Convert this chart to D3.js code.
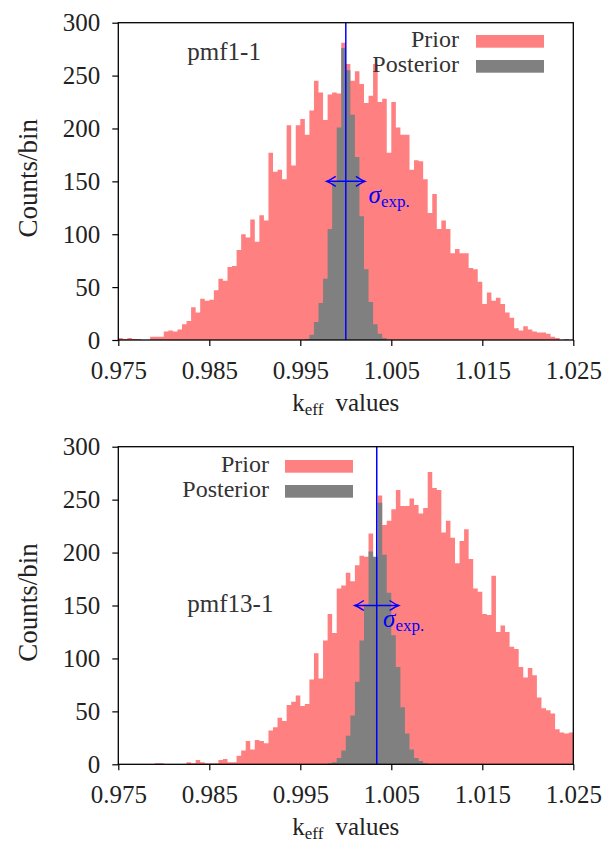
<!DOCTYPE html>
<html>
<head>
<meta charset="utf-8">
<script src="https://cdn.jsdelivr.net/npm/d3@7"></script>
<style>
  body { margin: 0; background: #fff; }
  text { font-family: "Liberation Serif", "DejaVu Serif", serif; fill: #222; }
</style>
</head>
<body>
<div id="container"></div>
<script>
// tick labels
const xTicks = [0.975, 0.985, 0.995, 1.005, 1.015, 1.025];
const yTicks = [0, 50, 100, 150, 200, 250, 300];

// histogram binning (100 bins of 0.0005 between 0.975 and 1.025)
const binLo = 0.975, binHi = 1.025, nBins = 100;

// pmf1-1 : counts per bin
const prior1 = [
  2, 1, 2, 1, 1, 0, 0, 3, 3, 3,
  8, 9, 8, 10, 15, 18, 31, 26, 39, 37,
  38, 47, 58, 56, 69, 70, 85, 100, 97, 114,
  93, 118, 113, 177, 159, 161, 152, 203, 165, 203,
  209, 194, 217, 245, 234, 208, 232, 234, 233, 281,
  261, 245, 254, 242, 224, 231, 261, 225, 228, 177,
  225, 201, 194, 194, 161, 170, 169, 152, 120, 138,
  105, 113, 105, 82, 86, 82, 82, 68, 67, 55,
  34, 45, 37, 40, 34, 26, 21, 11, 9, 13,
  10, 8, 7, 7, 6, 3, 2, 0, 1, 0
];
const post1 = [
  0, 0, 0, 0, 0, 0, 0, 0, 0, 0,
  0, 0, 0, 0, 0, 0, 0, 0, 0, 0,
  0, 0, 0, 0, 0, 0, 0, 0, 0, 0,
  0, 0, 0, 0, 0, 0, 0, 0, 0, 0,
  0, 1, 5, 17, 35, 58, 105, 150, 201, 276,
  255, 213, 173, 117, 67, 36, 15, 6, 2, 0,
  0, 0, 0, 0, 0, 0, 0, 0, 0, 0,
  0, 0, 0, 0, 0, 0, 0, 0, 0, 0,
  0, 0, 0, 0, 0, 0, 0, 0, 0, 0,
  0, 0, 0, 0, 0, 0, 0, 0, 0, 0
];

// pmf13-1 : counts per bin
const prior2 = [
  0, 0, 0, 0, 0, 0, 0, 0, 1, 1,
  0, 0, 0, 0, 0, 2, 1, 4, 2, 1,
  1, 1, 4, 5, 2, 2, 8, 13, 22, 14,
  23, 22, 20, 32, 35, 44, 41, 56, 59, 65,
  55, 57, 80, 105, 81, 117, 142, 124, 166, 169,
  181, 173, 188, 197, 196, 218, 195, 254, 226, 230,
  241, 259, 244, 244, 251, 245, 237, 242, 276, 261,
  259, 219, 230, 214, 190, 211, 222, 194, 166, 163,
  142, 141, 178, 125, 131, 125, 111, 109, 92, 82,
  91, 84, 63, 53, 51, 48, 33, 30, 29, 30
];
const post2 = [
  0, 0, 0, 0, 0, 0, 0, 0, 0, 0,
  0, 0, 0, 0, 0, 0, 0, 0, 0, 0,
  0, 0, 0, 0, 0, 0, 0, 0, 0, 0,
  0, 0, 0, 0, 0, 0, 0, 0, 0, 0,
  0, 0, 0, 0, 0, 0, 1, 2, 6, 13,
  27, 46, 78, 117, 151, 201, 196, 247, 198, 162,
  122, 92, 54, 29, 14, 6, 3, 1, 0, 0,
  0, 0, 0, 0, 0, 0, 0, 0, 0, 0,
  0, 0, 0, 0, 0, 0, 0, 0, 0, 0,
  0, 0, 0, 0, 0, 0, 0, 0, 0, 0
];

// annotations
const caseNames = ["pmf1-1", "pmf13-1"];
const expValue = [1.0000, 1.0034];   // blue line
const expSigma = [0.0021, 0.0024];   // arrow half width
const arrowCount = [150, 150];
const sigmaLabelX = [1.0025, 1.0041];
const sigmaLabelCount = [130, 130];
const seriesNames = ["Prior", "Posterior"];

const colors = { prior: "#ff8080", post: "#808080", exp: "#0000ff" };

const W = 608, H = 845;
const svg = d3.select("#container").append("svg")
  .attr("width", W).attr("height", H);

const panels = [
  { prior: prior1, post: post1, top: 22.7, h: 317.3,
    name: { x: 187.3, y: 60 }, legend: { tx: 459, rx: 476, y: 35 } },
  { prior: prior2, post: post2, top: 446.7, h: 317.6,
    name: { x: 187.3, y: 612 }, legend: { tx: 269, rx: 285, y: 460 } }
];

const left = 118.3, plotW = 455;
const binW = (binHi - binLo) / nBins;

panels.forEach((p, k) => {
  const x = d3.scaleLinear().domain([binLo, binHi]).range([left, left + plotW]);
  const y = d3.scaleLinear().domain([0, 300]).range([p.top + p.h, p.top]);
  const g = svg.append("g");

  // step areas
  const toSteps = arr => {
    const pts = arr.map((c, i) => ({ x: binLo + i * binW, c: c }));
    pts.push({ x: binHi, c: arr[arr.length - 1] });
    return pts;
  };
  const area = d3.area()
    .curve(d3.curveStepAfter)
    .x(d => x(d.x))
    .y0(y(0))
    .y1(d => y(d.c));

  g.append("path").attr("d", area(toSteps(p.prior))).attr("fill", colors.prior);
  g.append("path").attr("d", area(toSteps(p.post))).attr("fill", colors.post);

  // experimental value
  g.append("line")
    .attr("x1", x(expValue[k])).attr("x2", x(expValue[k]))
    .attr("y1", y(300)).attr("y2", y(0))
    .attr("stroke", colors.exp).attr("stroke-width", 1.5);

  // sigma arrow
  const ay = y(arrowCount[k]);
  const ax0 = x(expValue[k] - expSigma[k]), ax1 = x(expValue[k] + expSigma[k]);
  g.append("line")
    .attr("x1", ax0).attr("x2", ax1).attr("y1", ay).attr("y2", ay)
    .attr("stroke", colors.exp).attr("stroke-width", 1.5);
  const head = (tx, dir) => `M${tx + dir * 9},${ay - 5} Q${tx + dir * 3},${ay - 1} ${tx},${ay} Q${tx + dir * 3},${ay + 1} ${tx + dir * 9},${ay + 5}`;
  g.append("path").attr("d", head(ax0, 1)).attr("fill", "none")
    .attr("stroke", colors.exp).attr("stroke-width", 1.5);
  g.append("path").attr("d", head(ax1, -1)).attr("fill", "none")
    .attr("stroke", colors.exp).attr("stroke-width", 1.5);

  const sl = g.append("text")
    .attr("x", x(sigmaLabelX[k])).attr("y", y(sigmaLabelCount[k]))
    .style("font-size", "25px").style("fill", colors.exp);
  sl.append("tspan").style("font-style", "italic").style("fill", colors.exp).text("σ");
  sl.append("tspan").attr("dy", 4).style("font-size", "17px").style("fill", colors.exp).text("exp.");

  // frame
  g.append("rect")
    .attr("x", left).attr("y", p.top).attr("width", plotW).attr("height", p.h)
    .attr("fill", "none").attr("stroke", "#000").attr("stroke-width", 1.3);

  // axes
  const xAxis = d3.axisBottom(x).tickValues(xTicks).tickSize(6).tickPadding(15)
    .tickFormat(d3.format(".3f"));
  const yAxis = d3.axisLeft(y).tickValues(yTicks).tickSize(6).tickPadding(12);

  const xg = g.append("g").attr("transform", `translate(0,${p.top + p.h})`).call(xAxis);
  const yg = g.append("g").attr("transform", `translate(${left},0)`).call(yAxis);
  [xg, yg].forEach(ag => {
    ag.select(".domain").remove();
    ag.selectAll("line").attr("stroke", "#000").attr("stroke-width", 1.2);
    ag.selectAll("text").style("font-size", "25px").style("fill", "#222")
      .style("font-family", "\"Liberation Serif\", serif");
  });

  // axis titles
  const xl = g.append("text")
    .attr("x", left + plotW / 2).attr("y", p.top + p.h + 71)
    .attr("text-anchor", "middle").style("font-size", "25px");
  xl.append("tspan").text("k");
  xl.append("tspan").attr("dy", 4).style("font-size", "17px").text("eff");
  xl.append("tspan").attr("dy", -4).attr("dx", 12).text("values");

  g.append("text")
    .attr("transform", `translate(37,${p.top + p.h / 2 - 3}) rotate(-90)`)
    .attr("text-anchor", "middle").style("font-size", "27px")
    .text("Counts/bin");

  // case name
  g.append("text").attr("x", p.name.x).attr("y", p.name.y)
    .style("font-size", "25px").style("fill", "#333").text(caseNames[k]);

  // legend
  [colors.prior, colors.post].forEach((c, j) => {
    const ly = p.legend.y + j * 25;
    g.append("text").attr("x", p.legend.tx).attr("y", ly + 12)
      .attr("text-anchor", "end").style("font-size", "24px").style("fill", "#333")
      .text(seriesNames[j]);
    g.append("rect").attr("x", p.legend.rx).attr("y", ly)
      .attr("width", 68).attr("height", 12.7).attr("fill", c);
  });
});
</script>
</body>
</html>
